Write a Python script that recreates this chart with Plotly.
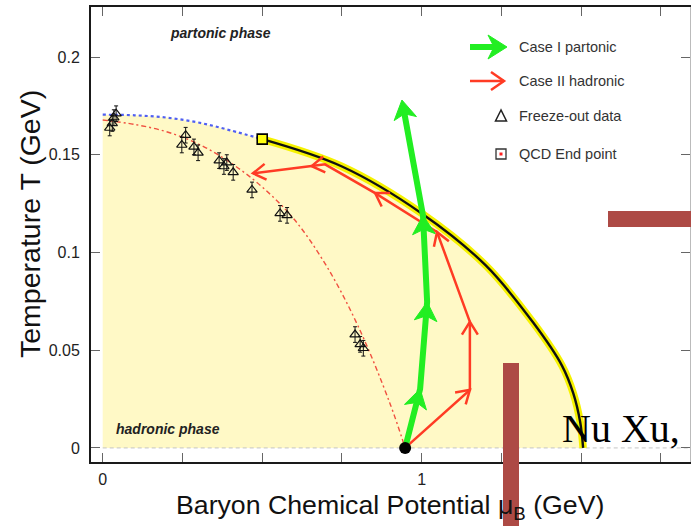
import numpy as np
import plotly.graph_objects as go

# ---------------- data ----------------
blue_mu = [0.0, 0.1, 0.2, 0.3, 0.4, 0.5]
blue_T = [0.1705, 0.1702, 0.1690, 0.1665, 0.1625, 0.158]

bound_mu = [0.5, 0.75, 1.0, 1.2, 1.35, 1.44, 1.475, 1.497, 1.506]
bound_T = [0.158, 0.1440, 0.1200, 0.0935, 0.0640, 0.042, 0.028, 0.013, 0.0]

fo_curve_mu = [0.0, 0.1, 0.2, 0.3, 0.4, 0.5, 0.6, 0.7, 0.8, 0.9, 0.948]
fo_curve_T = [0.1678, 0.1655, 0.1618, 0.1555, 0.146, 0.1335, 0.117, 0.0935, 0.0625, 0.023, 0.0]

fo_mu = [0.022, 0.030, 0.035, 0.042, 0.248, 0.260, 0.286, 0.299,
         0.365, 0.380, 0.389, 0.409, 0.468, 0.556, 0.578, 0.791, 0.807, 0.817]
fo_T = [0.1637, 0.1660, 0.1690, 0.1710, 0.155, 0.160, 0.154, 0.151,
        0.147, 0.144, 0.146, 0.141, 0.132, 0.120, 0.119, 0.058, 0.053, 0.051]
fo_err = [0.004] * len(fo_mu)

green_mu = [0.948, 0.995, 1.017, 1.004, 0.938]
green_T = [0.0, 0.0302, 0.0747, 0.119, 0.178]
green_heads = [1, 2, 3, 4]

red_mu = [0.948, 1.151, 1.151, 1.048, 0.854, 0.697, 0.655, 0.471]
red_T = [0.0, 0.0297, 0.0645, 0.1105, 0.1304, 0.1451, 0.1442, 0.1405]
red_heads = [1, 2, 3, 4, 6, 7]

endpoint_mu = [0.5]
endpoint_T = [0.158]

zero_mu = [0.0, 1.844]
zero_T = [0.0, 0.0]

xtick_vals = [0, 1]
xtick_text = ["0", "1"]
xminor_step = 0.25
ytick_vals = [0, 0.05, 0.1, 0.15, 0.2]
ytick_text = ["0", "0.05", "0.1", "0.15", "0.2"]

legend_labels = ["Case I partonic", "Case II hadronic", "Freeze-out data", "QCD End point"]

# ---------------- layout geometry ----------------
W, H = 691, 526
ML, MR, MT, MB = 91, 1, 7, 64
PW, PH = W - ML - MR, H - MT - MB
X0 = -0.0367
X1 = X0 + PW / 319.0
Y0, Y1 = -0.0072, 0.2256
SX = PW / (X1 - X0)
SY = PH / (Y1 - Y0)

GREEN = "#22EE22"
RED = "#FF3B24"


def px(p):
    return (p - ML) / PW


def py(p):
    return (H - MB - p) / PH


def head_arms(xt, yt, xp, yp, length, half):
    dx = (xt - xp) * SX
    dy = (yt - yp) * SY
    n = np.hypot(dx, dy)
    ux, uy = dx / n, dy / n
    out = []
    for s in (1, -1):
        c, si = np.cos(s * half), np.sin(s * half)
        rx = ux * c - uy * si
        ry = ux * si + uy * c
        out.append((xt - rx * length / SX, yt - ry * length / SY))
    return out


def back_point(xt, yt, xp, yp, dist):
    dx = (xt - xp) * SX
    dy = (yt - yp) * SY
    n = np.hypot(dx, dy)
    return xt - dx / n * dist / SX, yt - dy / n * dist / SY


fig = go.Figure()

# yellow hadronic region
fill_x = blue_mu + bound_mu[1:] + [blue_mu[0]]
fill_T = blue_T + bound_T[1:] + [0.0]
fig.add_trace(go.Scatter(x=fill_x, y=fill_T, mode="lines", fill="toself",
                         fillcolor="#FFF9C6", line=dict(width=0), hoverinfo="skip"))

# zero line
fig.add_trace(go.Scatter(x=zero_mu, y=zero_T, mode="lines",
                         line=dict(color="#C4C4C4", width=1, dash="4px,3px")))

# crossover (blue dotted)
fig.add_trace(go.Scatter(x=blue_mu, y=blue_T, mode="lines", line_shape="spline",
                         line=dict(color="#4F5FF2", width=2.2, dash="3px,3px")))

# freeze-out curve (red dash-dot)
fig.add_trace(go.Scatter(x=fo_curve_mu, y=fo_curve_T, mode="lines", line_shape="spline",
                         line=dict(color="#F05040", width=1.4, dash="5px,3px,2px,3px")))

# first order boundary: yellow glow + black line
fig.add_trace(go.Scatter(x=bound_mu, y=bound_T, mode="lines", line_shape="spline",
                         line=dict(color="#F6F200", width=7.5, smoothing=1.0)))
fig.add_trace(go.Scatter(x=bound_mu, y=bound_T, mode="lines", line_shape="spline",
                         line=dict(color="#111111", width=2.4, smoothing=1.0)))

# freeze-out data
fig.add_trace(go.Scatter(x=fo_mu, y=fo_T, mode="markers",
                         marker=dict(symbol="triangle-up-open", size=9, color="#111",
                                     line=dict(width=1.2, color="#111")),
                         error_y=dict(type="data", array=fo_err, color="#111",
                                      thickness=1, width=2)))

# red (Case II) path
fig.add_trace(go.Scatter(x=red_mu, y=red_T, mode="lines",
                         line=dict(color=RED, width=2.5)))
rx, ry = [], []
for i in red_heads:
    a, b = head_arms(red_mu[i], red_T[i], red_mu[i - 1], red_T[i - 1], 15, np.radians(32))
    rx += [a[0], red_mu[i], b[0], None]
    ry += [a[1], red_T[i], b[1], None]
fig.add_trace(go.Scatter(x=rx, y=ry, mode="lines",
                         line=dict(color=RED, width=2.5)))

# green (Case I) path
gx = list(green_mu[:-1])
gy = list(green_T[:-1])
bx, by = back_point(green_mu[-1], green_T[-1], green_mu[-2], green_T[-2], 10)
gx.append(bx)
gy.append(by)
fig.add_trace(go.Scatter(x=gx, y=gy, mode="lines",
                         line=dict(color=GREEN, width=6)))
hx, hy = [], []
for i in green_heads:
    a, b = head_arms(green_mu[i], green_T[i], green_mu[i - 1], green_T[i - 1], 22, np.radians(31))
    nx, ny = back_point(green_mu[i], green_T[i], green_mu[i - 1], green_T[i - 1], 14)
    hx += [green_mu[i], a[0], nx, b[0], green_mu[i], None]
    hy += [green_T[i], a[1], ny, b[1], green_T[i], None]
fig.add_trace(go.Scatter(x=hx, y=hy, mode="lines", fill="toself",
                         fillcolor=GREEN, line=dict(color=GREEN, width=1)))

# starting point (black dot)
fig.add_trace(go.Scatter(x=[green_mu[0]], y=[green_T[0]], mode="markers",
                         marker=dict(color="black", size=12)))

# QCD end point
fig.add_trace(go.Scatter(x=endpoint_mu, y=endpoint_T, mode="markers",
                         marker=dict(symbol="square", size=10, color="#FFFF10",
                                     line=dict(color="black", width=1.6))))

# invisible trace to activate right axis
fig.add_trace(go.Scatter(x=endpoint_mu, y=endpoint_T, yaxis="y2", mode="markers",
                         marker=dict(opacity=0), hoverinfo="skip"))

shapes = []


def path_paper(pts, close=False):
    s = "M " + " L ".join(f"{px(a):.5f},{py(b):.5f}" for a, b in pts)
    return s + (" Z" if close else "")


# legend icons
shapes.append(dict(type="path", xref="paper", yref="paper",
                   path=path_paper([(470, 47), (496, 47)]), line=dict(color=GREEN, width=6)))
shapes.append(dict(type="path", xref="paper", yref="paper",
                   path=path_paper([(507, 47), (488, 35), (494, 47), (488, 59)], True),
                   fillcolor=GREEN, line=dict(color=GREEN, width=1)))
shapes.append(dict(type="path", xref="paper", yref="paper",
                   path=path_paper([(470, 81), (504, 81)]), line=dict(color=RED, width=2.5)))
shapes.append(dict(type="path", xref="paper", yref="paper",
                   path=path_paper([(491, 72), (504, 81), (491, 90)]), line=dict(color=RED, width=2.5)))
shapes.append(dict(type="path", xref="paper", yref="paper",
                   path=path_paper([(501, 110), (495.5, 121), (506.5, 121)], True),
                   line=dict(color="#222", width=1.5)))
shapes.append(dict(type="rect", xref="paper", yref="paper",
                   x0=px(496), x1=px(506), y0=py(159), y1=py(149),
                   line=dict(color="#333", width=1.3)))
shapes.append(dict(type="rect", xref="paper", yref="paper",
                   x0=px(499.5), x1=px(502.5), y0=py(155.5), y1=py(152.5),
                   fillcolor="#FF2020", line=dict(width=0)))

# slide overlay bars
BAR = "#AD4A45"
shapes.append(dict(type="rect", xref="paper", yref="paper", layer="above",
                   x0=px(503), x1=px(519), y0=py(H + 2), y1=py(363),
                   fillcolor=BAR, line=dict(width=0)))
shapes.append(dict(type="rect", xref="paper", yref="paper", layer="above",
                   x0=px(608), x1=px(W + 2), y0=py(227), y1=py(211),
                   fillcolor=BAR, line=dict(width=0)))

annotations = []
for lab, yy in zip(legend_labels, [47, 81, 116, 154]):
    annotations.append(dict(text=lab, xref="paper", yref="paper", x=px(517), y=py(yy),
                            xanchor="left", yanchor="middle", showarrow=False,
                            font=dict(size=14.5, color="#333", family="Liberation Sans")))

annotations.append(dict(text="<b><i>partonic phase</i></b>", xref="paper", yref="paper",
                        x=px(220), y=py(33), xanchor="center", yanchor="middle",
                        showarrow=False, font=dict(size=14, color="#222", family="Liberation Sans")))
annotations.append(dict(text="<b><i>hadronic phase</i></b>", xref="paper", yref="paper",
                        x=px(168), y=py(429), xanchor="center", yanchor="middle",
                        showarrow=False, font=dict(size=14, color="#222", family="Liberation Sans")))

# axis titles
annotations.append(dict(text="Temperature T (GeV)", xref="paper", yref="paper",
                        x=px(30), y=py(224), xanchor="center", yanchor="middle", textangle=-90,
                        showarrow=False, font=dict(size=28.5, color="#111", family="Liberation Sans")))
annotations.append(dict(text="Baryon Chemical Potential μ<sub>B</sub> (GeV)",
                        xref="paper", yref="paper", x=px(390), y=py(507),
                        xanchor="center", yanchor="middle",
                        showarrow=False, font=dict(size=26.7, color="#111", family="Liberation Sans")))

annotations.append(dict(text="Nu Xu,", xref="paper", yref="paper", x=px(560), y=py(428),
                        xanchor="left", yanchor="middle", showarrow=False,
                        font=dict(size=40, color="#000", family="Liberation Serif")))

axis_font = dict(size=16, color="#222", family="Liberation Sans")
tick_common = dict(ticks="inside", ticklen=9, tickwidth=1.2, tickcolor="#666")
fig.update_layout(
    width=W, height=H,
    margin=dict(l=ML, r=MR, t=MT, b=MB),
    paper_bgcolor="white", plot_bgcolor="white",
    showlegend=False,
    shapes=shapes,
    annotations=annotations,
    xaxis=dict(range=[X0, X1], tickvals=xtick_vals, ticktext=xtick_text, **tick_common,
               minor=dict(ticks="inside", dtick=xminor_step, tick0=0, ticklen=9,
                          tickwidth=1.2, tickcolor="#666", showgrid=False),
               showline=True, linewidth=2, linecolor="#1a1a1a", mirror="allticks",
               showgrid=False, zeroline=False, tickfont=axis_font, ticklabelstandoff=2),
    yaxis=dict(range=[Y0, Y1], tickvals=ytick_vals, ticktext=ytick_text, **tick_common,
               showline=True, linewidth=2, linecolor="#1a1a1a", mirror=False,
               showgrid=False, zeroline=False, tickfont=axis_font, ticklabelstandoff=6),
    yaxis2=dict(range=[Y0, Y1], overlaying="y", side="right", tickvals=ytick_vals, **tick_common,
                showticklabels=False, showline=True, linewidth=1, linecolor="#BBBBBB",
                showgrid=False, zeroline=False),
)

fig.write_html("out.html")
